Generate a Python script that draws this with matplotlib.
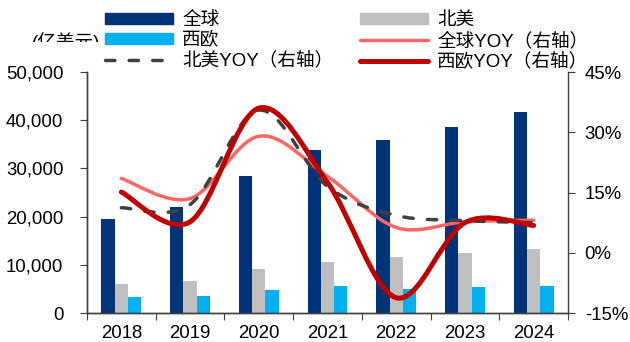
import matplotlib
matplotlib.use('Agg')
import matplotlib.pyplot as plt
import numpy as np
from matplotlib.path import Path
from matplotlib.patches import PathPatch, Patch
from matplotlib.lines import Line2D
from matplotlib.transforms import Bbox, TransformedBbox
from matplotlib.ticker import FuncFormatter

plt.rcParams['font.family'] = ['Liberation Sans', 'Noto Sans CJK SC']

years = ['2018', '2019', '2020', '2021', '2022', '2023', '2024']

# sales, 100M USD
global_sales = [19500, 21900, 28350, 33750, 35900, 38600, 41700]
na_sales = [6000, 6700, 9100, 10600, 11550, 12450, 13350]
we_sales = [3250, 3500, 4750, 5600, 5000, 5300, 5650]

# year-on-year growth, %
global_yoy = [18.5, 13.5, 29.0, 19.0, 6.3, 7.7, 8.1]
na_yoy = [11.2, 12.0, 35.5, 16.5, 9.3, 8.0, 7.5]
we_yoy = [15.1, 7.7, 36.0, 17.5, -11.2, 7.5, 6.8]

NAVY = '#003478'
GRAY = '#BFBFBF'
SKY = '#00B0F0'
PINK = '#FF6666'
DARKRED = '#C00000'
DASH = '#404040'
SPINE = '#404040'


def smooth_path(xs, ys):
    # cubic Bezier through every point, tangents taken from the neighbours
    pts = np.column_stack([xs, ys]).astype(float)
    n = len(pts)
    verts = [pts[0]]
    codes = [Path.MOVETO]
    for i in range(n - 1):
        p_prev = pts[max(i - 1, 0)]
        p0 = pts[i]
        p1 = pts[i + 1]
        p_next = pts[min(i + 2, n - 1)]
        verts += [p0 + (p1 - p_prev) / 6, p1 - (p_next - p0) / 6, p1]
        codes += [Path.CURVE4] * 3
    return Path(verts, codes)


W, H = 630, 342
fig = plt.figure(figsize=(W / 100, H / 100), dpi=100)
ax = fig.add_axes([87 / W, 1 - 313 / H, (568 - 87) / W, (313 - 72) / H])

x = np.arange(len(years))
w = 0.194
ax.bar(x - w, global_sales, w, color=NAVY, zorder=2)
ax.bar(x, na_sales, w, color=GRAY, zorder=2)
ax.bar(x + w, we_sales, w, color=SKY, zorder=2)

ax.set_xlim(-0.5, len(years) - 0.5)
ax.set_ylim(0, 50000)
ax.set_yticks(np.arange(0, 50001, 10000))
ax.yaxis.set_major_formatter(FuncFormatter(lambda v, p: f'{int(v):,}'))

ax.set_xticks(np.arange(-0.5, len(years), 1))
ax.set_xticklabels([])
ax.set_xticks(x, minor=True)
ax.set_xticklabels(years, minor=True)
ax.tick_params(axis='x', which='major', length=5, color=SPINE, direction='out')
ax.tick_params(axis='x', which='minor', length=0, pad=9, labelsize=13.4)
ax.tick_params(axis='y', length=5, color=SPINE, pad=12, labelsize=13.4)

ax2 = ax.twinx()
ax2.set_ylim(-15, 45)
ax2.set_yticks(np.arange(-15, 46, 15))
ax2.yaxis.set_major_formatter(FuncFormatter(lambda v, p: f'{int(v)}%'))
ax2.tick_params(axis='y', length=5, color=SPINE, pad=7, labelsize=13.4)

for a in (ax, ax2):
    a.spines['top'].set_visible(False)
    for s in ('left', 'right', 'bottom'):
        a.spines[s].set_color(SPINE)
        a.spines[s].set_linewidth(1.0)
ax.spines['right'].set_visible(False)

line_styles = [
    (global_yoy, PINK, 2.5, '-'),
    (na_yoy, DASH, 2.5, (0, (2.7, 4.1))),
    (we_yoy, DARKRED, 3.6, '-'),
]
for vals, col, lw, ls in line_styles:
    patch = PathPatch(smooth_path(x, vals), fill=False, edgecolor=col,
                      linewidth=lw, linestyle=ls, capstyle='round',
                      joinstyle='round')
    ax2.add_patch(patch)

handles = [
    Patch(color=NAVY, label='全球'),
    Patch(color=SKY, label='西欧'),
    Line2D([], [], color=DASH, lw=2.5, ls=(0, (2.7, 4.1)),
           dash_capstyle='round', label='北美YOY（右轴）'),
    Patch(color=GRAY, label='北美'),
    Line2D([], [], color=PINK, lw=2.5, solid_capstyle='round',
           label='全球YOY（右轴）'),
    Line2D([], [], color=DARKRED, lw=3.6, solid_capstyle='round',
           label='西欧YOY（右轴）'),
]
fig.legend(handles=handles, ncol=2, loc='upper left',
           bbox_to_anchor=(105 / W, 1 - 12 / H), frameon=False,
           fontsize=13.4, handlelength=3.66, handleheight=0.55,
           handletextpad=0.48, columnspacing=1.44, labelspacing=0.16,
           borderpad=0, borderaxespad=0)

unit = fig.text(31.7 / W, 1 - 32 / H, '(亿美元)', fontsize=13.4, va='top')
unit.set_clip_box(TransformedBbox(Bbox([[0, 1 - 42 / H], [0.3, 1]]),
                                  fig.transFigure))
unit.set_clip_on(True)

fig.savefig('out.png', dpi=100)
